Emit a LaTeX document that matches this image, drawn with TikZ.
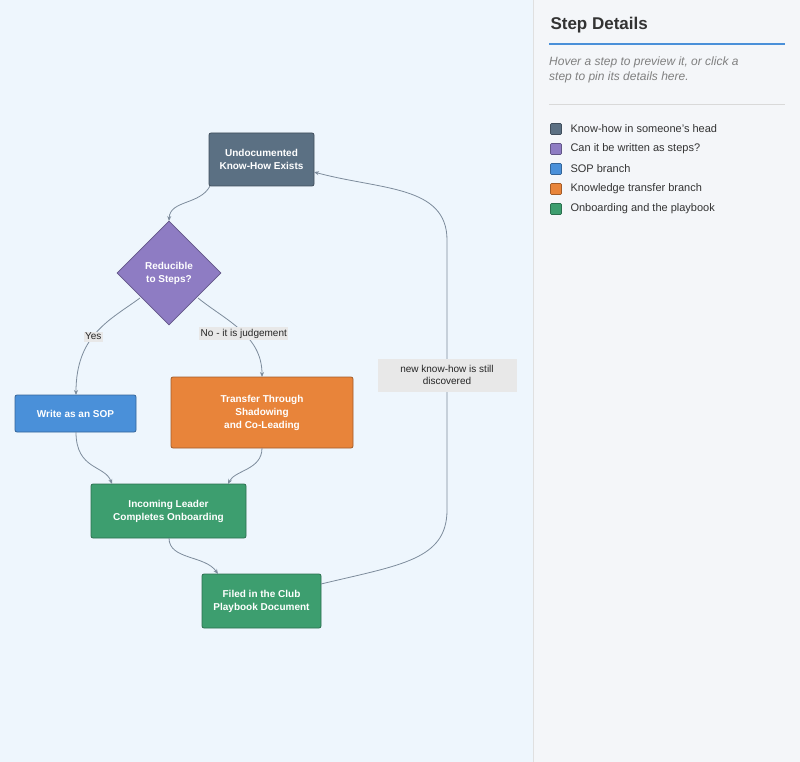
\documentclass[tikz,border=0pt]{standalone}
\usepackage{fontspec}
\setmainfont{Liberation Sans}
\usetikzlibrary{shapes.geometric,arrows.meta}
\definecolor{bgl}{HTML}{EEF6FD}
\definecolor{bgr}{HTML}{F4F6F9}
\definecolor{cslate}{HTML}{5B7083}
\definecolor{cpurple}{HTML}{8E7CC3}
\definecolor{cblue}{HTML}{4A90D9}
\definecolor{corange}{HTML}{E8843A}
\definecolor{cgreen}{HTML}{3D9E6F}
\definecolor{edgec}{HTML}{7D8C9C}
\definecolor{lblbg}{HTML}{E8E8E8}
\tikzset{
  x=1pt,y=-1pt,
  box/.style={draw=#1!70!black,fill=#1,rounded corners=2pt,text=white,font=\fontsize{10}{13}\selectfont\bfseries,align=center,line width=0.8pt,inner sep=0pt},
  conn/.style={draw=edgec,line width=0.8pt,-{Stealth[length=5pt,width=4pt]}},
  elab/.style={fill=lblbg,font=\fontsize{10}{12}\selectfont,inner sep=1.5pt,text=black!85},
  leg/.style={draw=#1!70!black,fill=#1,minimum size=11pt,inner sep=0pt,rounded corners=1pt,line width=0.6pt},
  legt/.style={anchor=west,font=\fontsize{11}{13}\selectfont,text=black!80}
}
\begin{document}
\begin{tikzpicture}
\useasboundingbox (0,0) rectangle (800,762);
\fill[bgl] (0,0) rectangle (533,762);
\fill[bgr] (533,0) rectangle (800,762);
\draw[black!12] (533,0) -- (533,762);
% nodes
\node[box=cslate,minimum width=105pt,minimum height=53pt] (u) at (261.5,159.5) {Undocumented\\Know-How Exists};
\node[diamond,aspect=1,draw=cpurple!70!black,fill=cpurple,text=white,font=\fontsize{10}{13}\selectfont\bfseries,align=center,minimum width=104pt,minimum height=104pt,inner sep=0pt,line width=0.8pt] (d) at (169,273) {Reducible\\to Steps?};
\node[box=cblue,minimum width=121pt,minimum height=37pt] (s) at (75.5,413.5) {Write as an SOP};
\node[box=corange,minimum width=182pt,minimum height=71pt] (t) at (262,412.5) {Transfer Through\\Shadowing\\and Co-Leading};
\node[box=cgreen,minimum width=155pt,minimum height=54pt] (i) at (168.5,511) {Incoming Leader\\Completes Onboarding};
\node[box=cgreen,minimum width=119pt,minimum height=54pt] (f) at (261.5,601) {Filed in the Club\\Playbook Document};
% edges
\draw[conn] (210,186) .. controls (200,205) and (170,200) .. (169,221);
\draw[conn] (140,298) .. controls (110,320) and (76,335) .. node[elab,pos=0.55]{Yes} (76,395);
\draw[conn] (198,298) .. controls (225,320) and (262,335) .. node[elab,pos=0.55]{No - it is judgement} (262,377);
\draw[conn] (76,432) .. controls (76,470) and (105,465) .. (112,484);
\draw[conn] (262,448) .. controls (262,470) and (235,470) .. (228,484);
\draw[conn] (169,538) .. controls (169,560) and (205,555) .. (218,574);
\draw[conn] (321,584) .. controls (400,565) and (447,560) .. (447,510)
  -- node[elab,fill=lblbg,minimum width=139pt,minimum height=33pt,align=center,inner sep=0pt]{new know-how is still\\discovered} (447,240)
  .. controls (447,185) and (380,190) .. (314,172);
% right panel
\node[anchor=west,font=\fontsize{17}{20}\selectfont\bfseries,text=black!80] (h) at (547,25) {Step Details};
\draw[cblue,line width=1.2pt] (549,44) -- (785,44);
\node[anchor=north west,align=left,font=\fontsize{12}{15}\selectfont\itshape,text=black!50,inner sep=0pt] (hint) at (549,57) {Hover a step to preview it, or click a\\step to pin its details here.};
\draw[black!15] (549,104) -- (785,104);
\foreach \c/\t [count=\k] in {cslate/Know-how in someone's head,cpurple/Can it be written as steps?,cblue/SOP branch,corange/Knowledge transfer branch,cgreen/Onboarding and the playbook}{
  \node[leg=\c] (l\k) at (556,109+20*\k) {};
  \node[legt] (lt\k) at (567,109+20*\k) {\t};
}
\end{tikzpicture}
\end{document}
